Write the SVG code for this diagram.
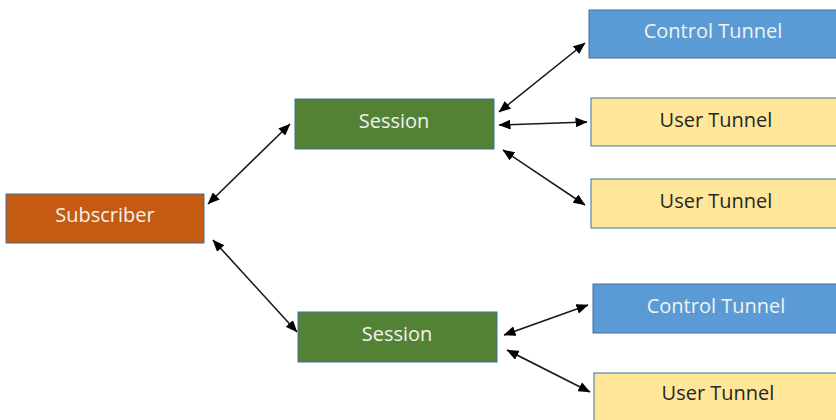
<svg xmlns="http://www.w3.org/2000/svg" width="836" height="420" viewBox="0 0 836 420">
<defs>
<marker id="ah" viewBox="0 0 12 10" refX="11.5" refY="5" markerWidth="12" markerHeight="10" markerUnits="userSpaceOnUse" orient="auto-start-reverse">
<path d="M0,0 L12,5 L0,10 z" fill="#000"/>
</marker>
<style>
.box{stroke:#41719C;stroke-width:1}
.t{font-family:"Open Sans","Liberation Sans",sans-serif;font-size:20px;text-anchor:middle}
.w{fill:#F2F2F2}
.d{fill:#262626}
.c{stroke:#1a1a1a;stroke-width:1.6;fill:none;marker-start:url(#ah);marker-end:url(#ah)}
</style>
</defs>
<rect width="836" height="420" fill="#fff"/>
<g id="subscriber"><rect class="box" x="6" y="194" width="198" height="49" fill="#C55A11"/><text class="t w" x="105" y="222">Subscriber</text></g>
<g id="session1"><rect class="box" x="295" y="99" width="199" height="50" fill="#548235"/><text class="t w" x="394" y="128">Session</text></g>
<g id="session2"><rect class="box" x="298" y="312" width="199" height="50" fill="#548235"/><text class="t w" x="397" y="341">Session</text></g>
<g id="control1"><rect class="box" x="589" y="10" width="250" height="48" fill="#5B9BD5"/><text class="t w" x="713" y="38">Control Tunnel</text></g>
<g id="user1"><rect class="box" x="591" y="98" width="250" height="48" fill="#FFE699"/><text class="t d" x="716" y="127">User Tunnel</text></g>
<g id="user2"><rect class="box" x="591" y="179" width="250" height="49" fill="#FFE699"/><text class="t d" x="716" y="208">User Tunnel</text></g>
<g id="control2"><rect class="box" x="593" y="284" width="248" height="49" fill="#5B9BD5"/><text class="t w" x="716" y="313">Control Tunnel</text></g>
<g id="user3"><rect class="box" x="594" y="373" width="250" height="49" fill="#FFE699"/><text class="t d" x="718" y="400">User Tunnel</text></g>
<g id="connectors">
<line class="c" x1="208" y1="204" x2="290" y2="124"/>
<line class="c" x1="213" y1="240" x2="297" y2="332"/>
<line class="c" x1="499" y1="112" x2="585" y2="43"/>
<line class="c" x1="499" y1="125" x2="587" y2="122"/>
<line class="c" x1="503" y1="150" x2="585" y2="205"/>
<line class="c" x1="504" y1="335" x2="588" y2="305"/>
<line class="c" x1="507" y1="350" x2="590" y2="392"/>
</g>
</svg>
